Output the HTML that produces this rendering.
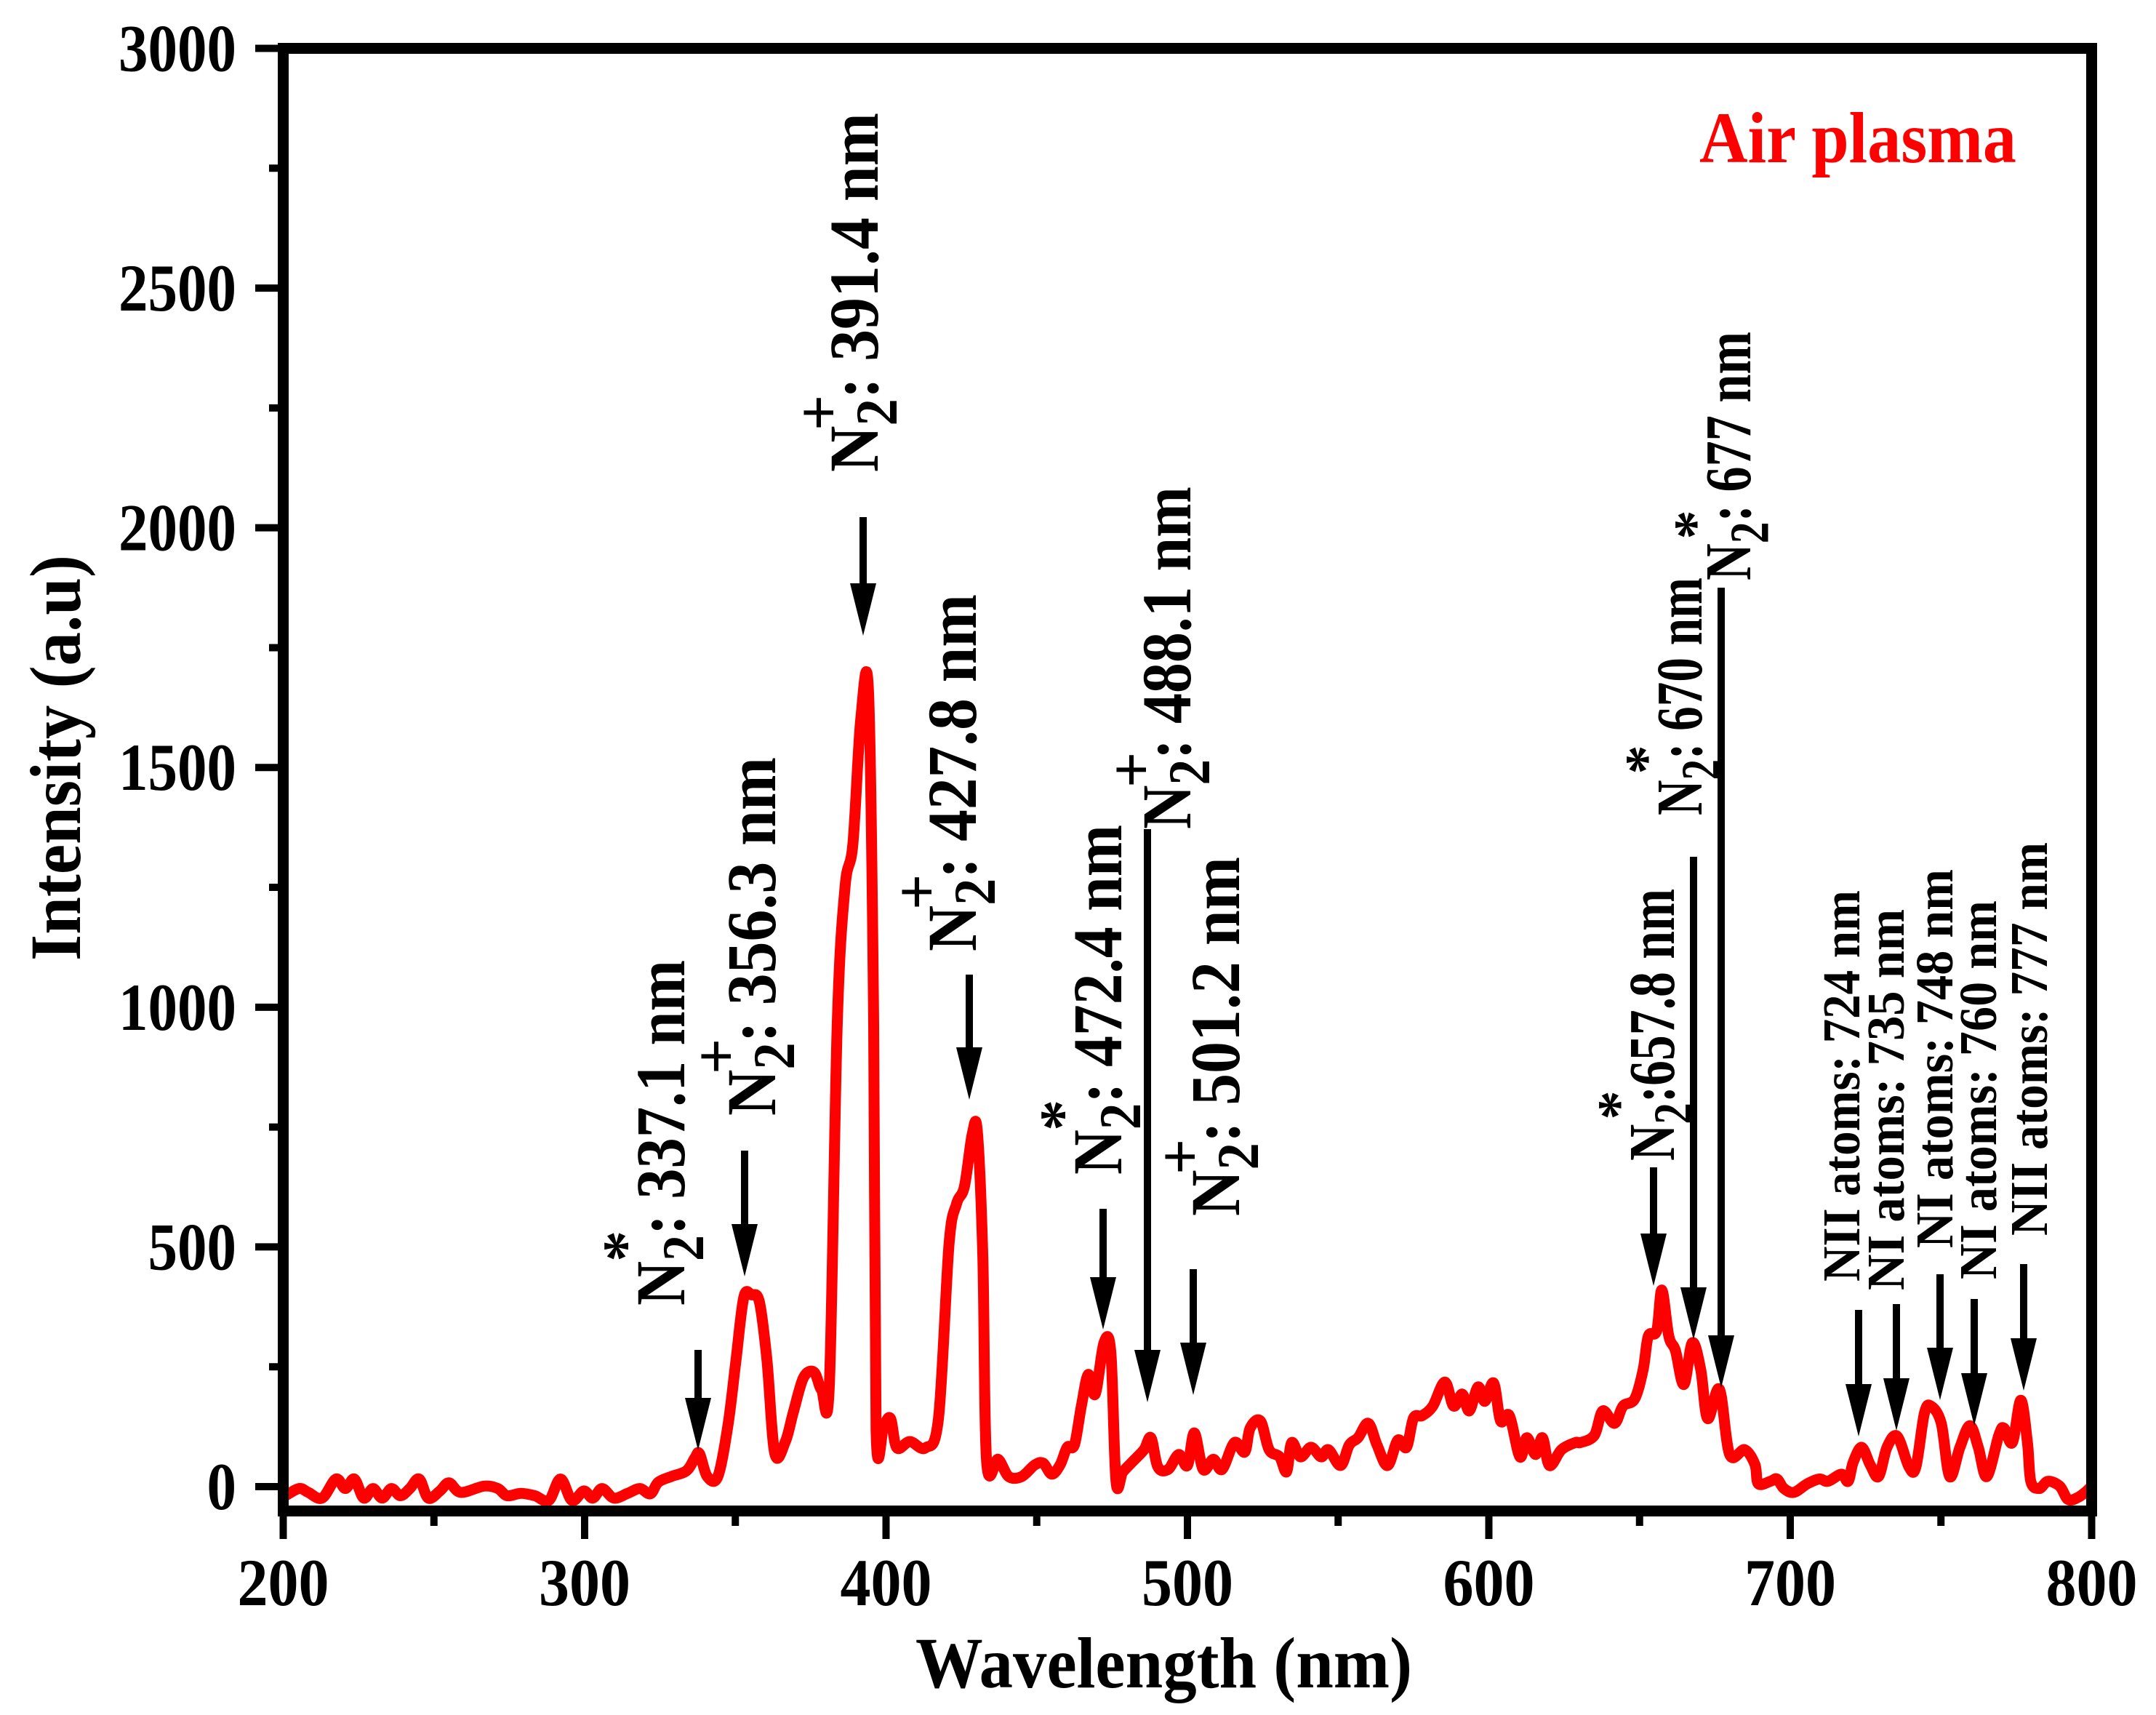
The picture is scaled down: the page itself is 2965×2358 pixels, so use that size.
<!DOCTYPE html>
<html><head><meta charset="utf-8"><style>
html,body{margin:0;padding:0;background:#fff;}
svg{display:block;}
text{font-family:"Liberation Serif","Times New Roman",serif;font-weight:bold;}
</style></head>
<body>
<svg id="chart" width="2965" height="2358" viewBox="0 0 2965 2358" xmlns="http://www.w3.org/2000/svg">
<defs><clipPath id="plotclip"><rect x="397" y="74" width="2472" height="1996"/></clipPath></defs>
<g id="axes"></g>
<g id="series" clip-path="url(#plotclip)"></g>
<g id="annots"></g>
<text x="2337" y="223" font-size="100" fill="#ff0000" textLength="436" lengthAdjust="spacingAndGlyphs">Air plasma</text>
<text x="1259" y="2320" font-size="100" textLength="683" lengthAdjust="spacingAndGlyphs">Wavelength (nm)</text>
<text transform="translate(110,1321) rotate(-90)" x="0" y="0" font-size="100" textLength="558" lengthAdjust="spacingAndGlyphs">Intensity (a.u)</text>
</svg>
<script>
const wavelengths = [200.7,205.3,208.3,212.9,217.5,220.6,223.6,226.7,229.8,232.8,235.9,238.9,242,245.1,248.1,252,255,258.9,266.6,271.2,274.3,278.9,283.5,288.1,292,295.8,299.7,302.7,305.8,309.7,314.3,318.3,321.8,324.4,328.7,333.8,336.6,338.1,340.7,344.2,347.6,350.2,352.8,355.4,358,360.5,363.1,366.6,369.2,372.6,376.1,378.6,381.2,383.8,386.4,389,391.6,394.2,395.9,396.7,399.3,401.5,403.6,407.9,413.1,417.4,420.9,423.4,426,428.6,430.3,432.1,433.4,437.2,440.7,445,449.3,452.1,455,457.8,460.1,462.5,464.8,467.1,469.4,472.3,474.6,476.3,478.6,482.1,485.6,487.9,490.2,493.6,497.1,500,502.3,505.2,508.6,511.5,515.6,519,520.8,524.2,527.1,530.6,532.9,534.6,537.5,541,544.4,546.8,550.8,553.7,556.6,560,562.9,566.4,569.8,572.7,575,577.9,581.4,585.4,588.3,591.2,593.5,596.4,598.7,601.6,603.9,606.8,610.3,612.6,615.5,617.8,620.1,624.1,628.7,630.5,635,637.8,641.7,644.5,648.4,651.2,652.9,655.7,657.4,659.7,661.9,664.7,667.5,670.3,672.6,676.5,679.9,684.9,688.3,689.4,693.4,695.6,697.9,701.2,705.7,709.7,712.5,717,719.2,720.9,723.7,726.5,729.3,732.1,735.5,739.4,741.7,744.5,746.7,750.1,752.9,756.3,759.6,762.4,765.2,769.2,770.9,773.7,776.5,778.7,779.8,782.6,785.5,789.4,792.2,795.6,798.4,801.2];
const intensities = [-19,-4,-12,-24,16,-4,16,-24,-4,-24,-4,-19,-4,16,-24,-9,8,-12,1,-4,-19,-14,-19,-29,16,-29,-9,-24,-4,-24,-14,-4,-15,9,21,33,60,69,21,21,130,263,395,400,385,263,69,94,154,227,239,202,214,964,1250,1340,1600,1655,964,118,130,142,81,94,81,142,505,590,626,735,740,481,51,57,21,21,45,49,26,46,82,87,168,234,193,300,279,11,31,54,77,102,41,36,67,44,112,36,57,36,92,72,122,137,77,62,31,92,62,82,62,77,44,87,102,132,87,44,97,82,143,148,168,218,168,193,158,208,178,216,137,148,62,102,67,102,44,77,92,92,107,158,132,168,183,244,314,325,410,314,284,213,300,244,142,203,67,77,46,6,11,16,-4,-12,6,16,11,26,11,51,82,46,21,82,105,41,41,153,168,132,21,82,127,82,21,107,122,92,180,92,11,-4,11,1,-27,-22,-9,9];
const xTicks = [200,300,400,500,600,700,800];
const yTicks = [0,500,1000,1500,2000,2500,3000];

const NS='http://www.w3.org/2000/svg';
function X(nm){return 389.5+(nm-200)*4.145;}
function Y(v){return 2044-v*0.65917;}
function mk(tag,attrs,parent){const e=document.createElementNS(NS,tag);for(const k in attrs)e.setAttribute(k,attrs[k]);parent.appendChild(e);return e;}

const axes=document.getElementById('axes');
const frame=mk('rect',{x:389.5,y:66.5,width:2487,height:2011,fill:'none',stroke:'#000','stroke-width':15},axes);


xTicks.forEach((t,i)=>{
  const l=mk('line',{x1:X(t),x2:X(t),y1:2077,y2:2116,stroke:'#000','stroke-width':10},axes);
  
  
  const tx=mk('text',{x:X(t),y:2207,'font-size':92,'text-anchor':'middle',textLength:126,lengthAdjust:'spacingAndGlyphs'},axes);
  tx.textContent=t;
  
  
  if(i<xTicks.length-1){
    const m=mk('line',{x1:X(t+50),x2:X(t+50),y1:2077,y2:2098,stroke:'#000','stroke-width':10},axes);
    
    
  }
});
yTicks.forEach((t,i)=>{
  const l=mk('line',{x1:351,x2:390,y1:Y(t),y2:Y(t),stroke:'#000','stroke-width':10},axes);
  
  
  const s=String(t);
  const tx=mk('text',{x:325,y:Y(t)+31,'font-size':92,'text-anchor':'end',textLength:s.length*40.5,lengthAdjust:'spacingAndGlyphs'},axes);
  tx.textContent=s;
  
  
  if(i<yTicks.length-1){
    const m=mk('line',{x1:370,x2:390,y1:Y(t+250),y2:Y(t+250),stroke:'#000','stroke-width':10},axes);
    
    
  }
});

const series=document.getElementById('series');
const pts=wavelengths.map((w,i)=>[X(w),Y(intensities[i])]);
let d='M'+pts[0][0].toFixed(1)+' '+pts[0][1].toFixed(1);
for(let i=0;i<pts.length-1;i++){
  const p0=pts[Math.max(i-1,0)],p1=pts[i],p2=pts[i+1],p3=pts[Math.min(i+2,pts.length-1)];
  const c1=[p1[0]+(p2[0]-p0[0])/6,p1[1]+(p2[1]-p0[1])/6];
  const c2=[p2[0]-(p3[0]-p1[0])/6,p2[1]-(p3[1]-p1[1])/6];
  d+=' C'+c1[0].toFixed(1)+' '+c1[1].toFixed(1)+' '+c2[0].toFixed(1)+' '+c2[1].toFixed(1)+' '+p2[0].toFixed(1)+' '+p2[1].toFixed(1);
}
const path=mk('path',{d:d,fill:'none',stroke:'#ff0000','stroke-width':15,'stroke-linejoin':'round','stroke-linecap':'round'},series);



const arrows=[[960,1856,1994],[1024,1582,1755],[1187,711,874],[1333,1340,1512],[1517,1662,1828],[1578,1140,1928],[1641,1745,1918],[2274,1605,1768],[2329,1178,1842],[2367,808,1908],[2556,1801,1975],[2608,1793,1967],[2668,1752,1925],[2715,1786,1960],[2783,1738,1912]];
const annots=document.getElementById('annots');
arrows.forEach(a=>{
  const g=mk('g',{},annots);
  
  
  mk('rect',{x:a[0]-5,y:a[1],width:10,height:(a[2]-a[1])-60,fill:'#000'},g);
  mk('polygon',{points:(a[0]-18)+','+(a[2]-72)+' '+(a[0]+18)+','+(a[2]-72)+' '+a[0]+','+a[2],fill:'#000'},g);
});

const labels=[
 [941,1795,1320,'*',': 337.1 nm',96,true],
 [1066,1534,1041,'+',': 356.3 nm',96,true],
 [1207,649,155,'+',': 391.4 nm',96,true],
 [1342,1308,817,'+',': 427.8 nm',96,true],
 [1542,1615,1134,'*',': 472.4 nm',96,true],
 [1637,1140,669,'+',': 488.1 nm',96,true],
 [1704,1672,1178,'+',': 501.2 nm',96,true],
 [2302,1596,1222,'*',':657.8 nm',90,true],
 [2340,1121,794,'*',': 670 nm',90,true],
 [2407,798,456,'*',': 677 nm',90,true],
 [2557,1762,1224,'','NII atoms: 724 nm',73,false],
 [2618,1774,1250,'','NI atoms: 735 nm',73,false],
 [2685,1716,1195,'','NI atoms: 748 nm',73,false],
 [2745,1759,1238,'','NI atoms: 760 nm',73,false],
 [2815,1699,1158,'','NII atoms: 777 nm',73,false]
];
labels.forEach(L=>{
  const [bx,y0,y1,sup,rest,F,n2]=L;
  const g=mk('g',{transform:'translate('+bx+','+y0+') rotate(-90)'},annots);
  
  
  const t=mk('text',{x:0,y:0,'font-size':F,textLength:(y0-y1),lengthAdjust:'spacingAndGlyphs'},g);
  if(n2){
    t.appendChild(document.createTextNode('N'));
    const s=mk('tspan',{'font-size':F*0.85,dy:F*0.27},t); s.textContent='2';
    const r=mk('tspan',{dy:-F*0.27},t); r.textContent=rest;
    const p=mk('text',{x:F*0.85,y:-F*0.85,'font-size':F*0.9,'text-anchor':'middle','dominant-baseline':'central'},g);
    p.textContent=sup;
    
    
  } else {
    t.textContent=rest;
  }
});
</script>
</body></html>
